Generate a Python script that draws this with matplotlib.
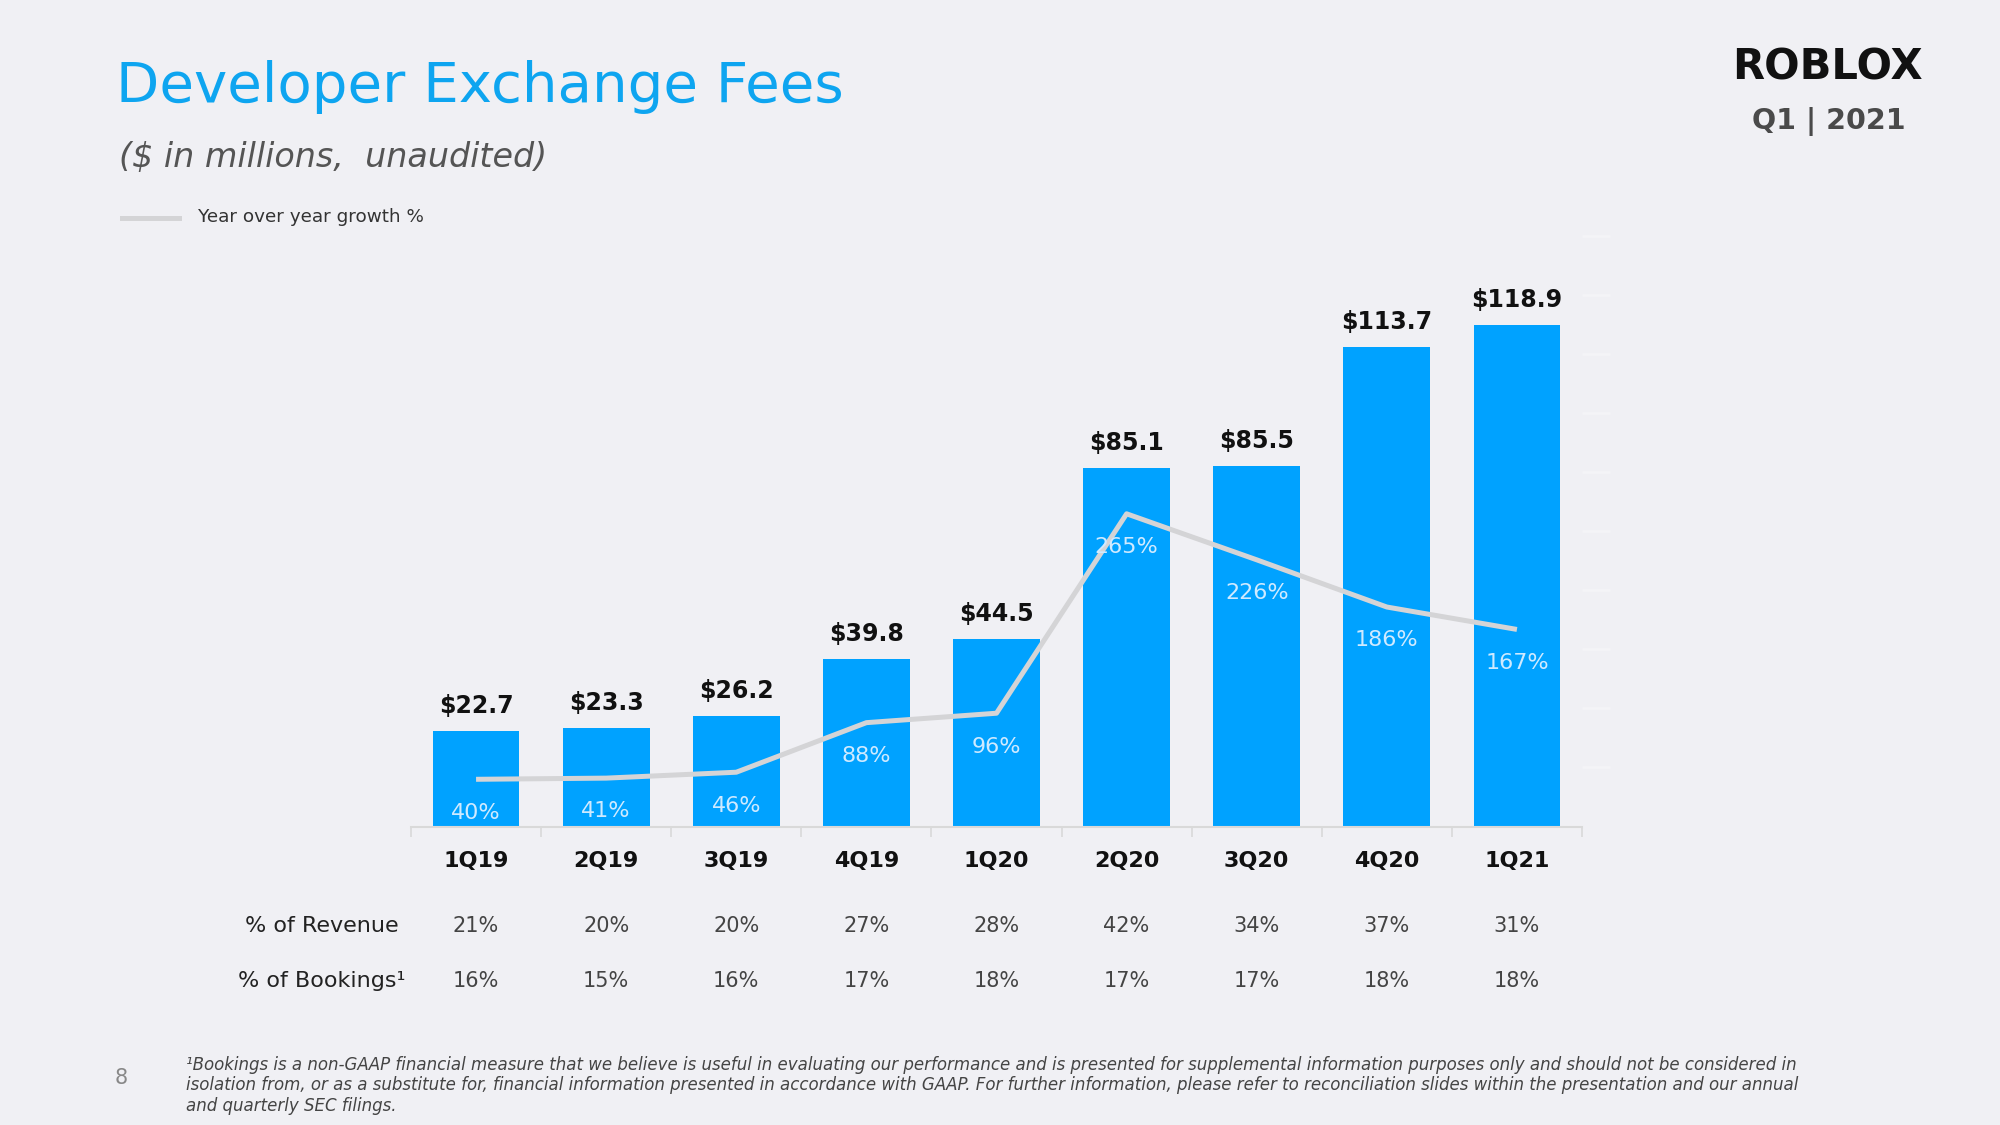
import numpy as np
import matplotlib.pyplot as plt
from matplotlib.transforms import blended_transform_factory

quarters = ['1Q19', '2Q19', '3Q19', '4Q19', '1Q20', '2Q20', '3Q20', '4Q20', '1Q21']
fees = [22.7, 23.3, 26.2, 39.8, 44.5, 85.1, 85.5, 113.7, 118.9]
yoy_growth = [40, 41, 46, 88, 96, 265, 226, 186, 167]
pct_revenue = [21, 20, 20, 27, 28, 42, 34, 37, 31]
pct_bookings = [16, 15, 16, 17, 18, 17, 17, 18, 18]

footnote = [
    '\u00b9Bookings is a non-GAAP financial measure that we believe is useful in evaluating our performance and is presented for supplemental information purposes only and should not be considered in',
    'isolation from, or as a substitute for, financial information presented in accordance with GAAP. For further information, please refer to reconciliation slides within the presentation and our annual',
    'and quarterly SEC filings.',
]

bg = '#f0f0f4'
blue = '#00a2ff'
plt.rcParams['font.family'] = ['DejaVu Sans']

fig = plt.figure(figsize=(20, 11.25), dpi=100, facecolor=bg)
W, H = 2000, 1125

def fy(py):
    return 1 - py / H

ax = fig.add_axes([411 / W, fy(826.5), (1582 - 411) / W, 590 / H])
ax.set_facecolor('none')
x = np.arange(len(quarters))
ax.bar(x, fees, width=0.667, color=blue, zorder=2)
ax.set_xlim(-0.5, 8.5)
ax.set_ylim(0, 140)
for s in ['top', 'left', 'right']:
    ax.spines[s].set_visible(False)
ax.spines['bottom'].set_color('#d9d9d9')
ax.spines['bottom'].set_linewidth(1.5)
ax.set_yticks([])
ax.set_xticks(np.arange(-0.5, 9, 1))
ax.set_xticklabels([])
ax.tick_params(axis='x', which='major', length=7, color='#d9d9d9', width=1.2)
ax.set_xticks(x, quarters, minor=True)
ax.tick_params(axis='x', which='minor', length=0, pad=18, labelsize=16)
for lab in ax.get_xticklabels(minor=True):
    lab.set_fontweight('bold')
    lab.set_color('#111111')

for xi, v in zip(x, fees):
    ax.annotate(f'${v}', (xi, v), xytext=(0, 18), textcoords='offset points',
                ha='center', va='center', fontsize=17, fontweight='bold', color='#111111')

ax2 = ax.twinx()
ax2.set_ylim(0, 500)
ax2.set_facecolor('none')
for s in ['top', 'left', 'bottom', 'right']:
    ax2.spines[s].set_visible(False)
ax2.set_yticks(np.arange(50, 501, 50))
ax2.set_yticklabels([])
ax2.tick_params(axis='y', length=20, width=2, color='#f4f4f7', direction='out')
ax2.plot(x, yoy_growth, color='#d4d4d6', lw=3.6, solid_capstyle='butt', zorder=3)
for xi, g in zip(x, yoy_growth):
    ax2.annotate(f'{g}%', (xi, g), xytext=(0, -24), textcoords='offset points',
                 ha='center', va='center', fontsize=16, color='#cfeaff', zorder=4)

# table rows under the chart
tr = blended_transform_factory(ax.transData, fig.transFigure)
for xi, r, b in zip(x, pct_revenue, pct_bookings):
    ax.text(xi, fy(926), f'{r}%', transform=tr, ha='center', va='center',
            fontsize=15, color='#444444')
    ax.text(xi, fy(981), f'{b}%', transform=tr, ha='center', va='center',
            fontsize=15, color='#444444')
fig.text(399 / W, fy(926), '% of Revenue', ha='right', va='center', fontsize=16, color='#222222')
fig.text(406 / W, fy(981), '% of Bookings\u00b9', ha='right', va='center', fontsize=16, color='#222222')

# header
fig.text(116 / W, fy(102), 'Developer Exchange Fees', ha='left', va='baseline',
         fontsize=40.5, color='#0ea5f0')
fig.text(119 / W, fy(167), '($ in millions,  unaudited)', ha='left', va='baseline',
         fontsize=24, style='italic', color='#555555')
fig.add_artist(plt.Line2D([122 / W, 179 / W], [fy(218), fy(218)], color='#d4d4d6', lw=3.6))
fig.text(198 / W, fy(217), 'Year over year growth %', ha='left', va='center',
         fontsize=13.2, color='#333333')

fig.text(1827 / W, fy(67), 'ROBLOX', ha='center', va='center', fontsize=30,
         fontweight='heavy', color='#111111')
fig.text(1829 / W, fy(122), 'Q1 | 2021', ha='center', va='center', fontsize=20.5,
         fontweight='bold', color='#4a4a4a')

# footer
fig.text(121 / W, fy(1078), '8', ha='center', va='center', fontsize=15, color='#888888')
for i, line in enumerate(footnote):
    fig.text(186 / W, fy(1065 + 20.5 * i), line, ha='left', va='center',
             fontsize=12, style='italic', color='#444444')

fig.savefig('out.png', dpi=100, facecolor=bg)
